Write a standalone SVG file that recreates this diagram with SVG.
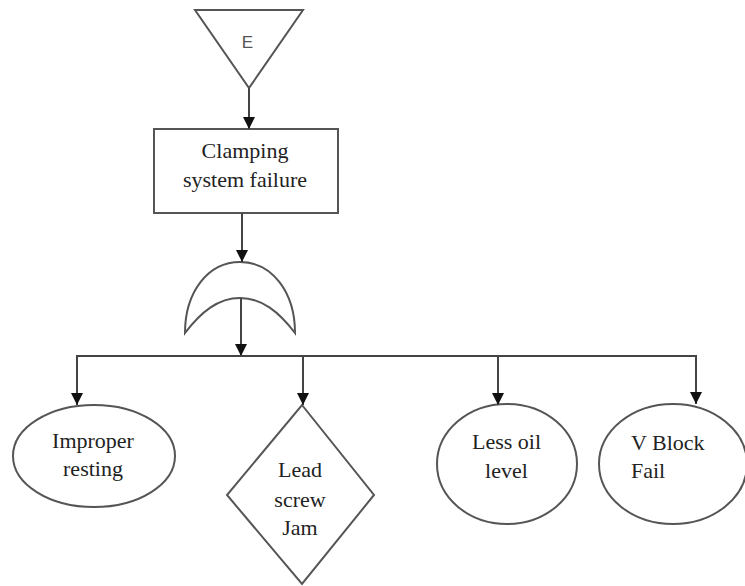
<svg xmlns="http://www.w3.org/2000/svg" width="745" height="586" viewBox="0 0 745 586">
  <style>
    .shape { fill: #fff; stroke: #555; stroke-width: 2; }
    .link { fill: none; stroke: #444; stroke-width: 2; }
    .label { font-family: "Liberation Serif", "Times New Roman", serif; font-size: 22px; fill: #222; }
    .mid { text-anchor: middle; }
    .tag { font-family: "Liberation Sans", Arial, sans-serif; font-size: 17px; fill: #555; text-anchor: middle; }
  </style>
  <defs>
    <marker id="arrow" markerUnits="userSpaceOnUse" markerWidth="12" markerHeight="12" viewBox="0 0 10 10" refX="10" refY="5" orient="auto">
      <path d="M0,0 L10,5 L0,10 Z" fill="#111"/>
    </marker>
  </defs>
  <rect width="745" height="586" fill="#fff"/>

  <!-- transfer-in triangle -->
  <g id="transfer-e">
    <polygon class="shape" points="195,10 303,10 249,88"/>
    <text class="tag" x="247.5" y="48">E</text>
  </g>

  <!-- top event -->
  <g id="top-event">
    <rect class="shape" x="154" y="129" width="184" height="84"/>
    <text class="label mid" x="245" y="158">Clamping</text>
    <text class="label mid" x="245" y="187">system failure</text>
  </g>

  <!-- OR gate -->
  <g id="or-gate">
    <path class="shape" d="M185,333 C185,292 208,262 240,262 C272,262 295,292 295,333 C279,312 262,298 240,298 C218,298 201,312 185,333 Z"/>
  </g>

  <!-- basic events -->
  <g id="improper-resting">
    <ellipse class="shape" cx="94" cy="456" rx="81" ry="51"/>
    <text class="label mid" x="93" y="448">Improper</text>
    <text class="label mid" x="93" y="476">resting</text>
  </g>

  <g id="lead-screw-jam">
    <polygon class="shape" points="302,405 374,495 302,584 227,495"/>
    <text class="label mid" x="300" y="477">Lead</text>
    <text class="label mid" x="300" y="507">screw</text>
    <text class="label mid" x="300" y="535">Jam</text>
  </g>

  <g id="less-oil-level">
    <ellipse class="shape" cx="507" cy="464" rx="70" ry="60"/>
    <text class="label mid" x="506.5" y="449">Less oil</text>
    <text class="label mid" x="506.5" y="478">level</text>
  </g>

  <g id="v-block-fail">
    <ellipse class="shape" cx="673" cy="464" rx="74" ry="60"/>
    <text class="label" x="631" y="450">V Block</text>
    <text class="label" x="631" y="478">Fail</text>
  </g>

  <!-- connectors -->
  <g id="connectors">
    <line class="link" x1="249" y1="88" x2="249" y2="129" marker-end="url(#arrow)"/>
    <line class="link" x1="242" y1="213" x2="242" y2="262" marker-end="url(#arrow)"/>
    <line class="link" x1="241" y1="298" x2="241" y2="356" marker-end="url(#arrow)"/>
    <line class="link" x1="76" y1="356" x2="697" y2="356"/>
    <line class="link" x1="77" y1="356" x2="77" y2="405" marker-end="url(#arrow)"/>
    <line class="link" x1="303" y1="356" x2="303" y2="405" marker-end="url(#arrow)"/>
    <line class="link" x1="498" y1="356" x2="498" y2="405" marker-end="url(#arrow)"/>
    <line class="link" x1="696" y1="356" x2="696" y2="404" marker-end="url(#arrow)"/>
  </g>
</svg>
